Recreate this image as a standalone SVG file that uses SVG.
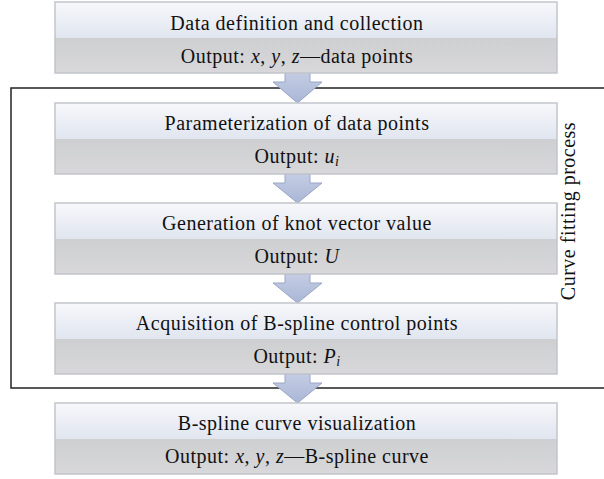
<svg xmlns="http://www.w3.org/2000/svg" width="604" height="479" viewBox="0 0 604 479">
<style>
.t{font-family:"Liberation Serif","Times New Roman",serif;font-size:20px;letter-spacing:0.5px;fill:#111;text-anchor:middle}
.i{font-style:italic}
.frame{fill:none;stroke:#222;stroke-width:1.5}
.arrow{fill:url(#ag);stroke:#9aa6c6;stroke-width:1}
</style>
<defs>
<linearGradient id="tg" x1="0" y1="0" x2="0" y2="1">
<stop offset="0" stop-color="#f7f8fb"/>
<stop offset="1" stop-color="#e0e5ef"/>
</linearGradient>
<linearGradient id="bg" x1="0" y1="0" x2="0" y2="1">
<stop offset="0" stop-color="#cecfd1"/>
<stop offset="1" stop-color="#d8d8da"/>
</linearGradient>
<linearGradient id="ag" x1="0" y1="0" x2="0" y2="1">
<stop offset="0" stop-color="#c4cde3"/>
<stop offset="1" stop-color="#a9b6d6"/>
</linearGradient>
<g id="box">
<rect x="55" y="0" width="502" height="36" fill="url(#tg)"/>
<rect x="55" y="36" width="502" height="35" fill="url(#bg)"/>
<rect x="55" y="0" width="502" height="71" fill="none" stroke="#c2c5cc" stroke-width="1.5"/>
</g>
</defs>
<rect x="11" y="88" width="620" height="300" class="frame"/>
<g id="connectors">
<path class="arrow" d="M285,72 L310,72 L310,82 L322,82 L297.5,103 L273,82 L285,82 Z"/>
<path class="arrow" d="M285,174 L310,174 L310,183 L322,183 L297.5,203 L273,183 L285,183 Z"/>
<path class="arrow" d="M285,274 L310,274 L310,283 L322,283 L297.5,303 L273,283 L285,283 Z"/>
<path class="arrow" d="M285,374 L310,374 L310,383 L322,383 L297.5,403 L273,383 L285,383 Z"/>
</g>
<g id="n1"><use href="#box" y="2"/>
<text class="t" x="297" y="30">Data definition and collection</text>
<text class="t" x="297" y="63">Output: <tspan class="i">x</tspan>, <tspan class="i">y</tspan>, <tspan class="i">z</tspan>—data points</text></g>
<g id="n2"><use href="#box" y="103"/>
<text class="t" x="297" y="130">Parameterization of data points</text>
<text class="t" x="297" y="163">Output: <tspan class="i">u</tspan><tspan class="i" font-size="14" dy="3">i</tspan></text></g>
<g id="n3"><use href="#box" y="203"/>
<text class="t" x="297" y="230">Generation of knot vector value</text>
<text class="t" x="297" y="263">Output: <tspan class="i">U</tspan></text></g>
<g id="n4"><use href="#box" y="303"/>
<text class="t" x="297" y="330">Acquisition of B-spline control points</text>
<text class="t" x="297" y="363">Output: <tspan class="i">P</tspan><tspan class="i" font-size="14" dy="3">i</tspan></text></g>
<g id="n5"><use href="#box" y="403"/>
<text class="t" x="297" y="430">B-spline curve visualization</text>
<text class="t" x="297" y="463">Output: <tspan class="i">x</tspan>, <tspan class="i">y</tspan>, <tspan class="i">z</tspan>—B-spline curve</text></g>
<text class="t" transform="translate(575,211) rotate(-90)">Curve fitting process</text>
</svg>
